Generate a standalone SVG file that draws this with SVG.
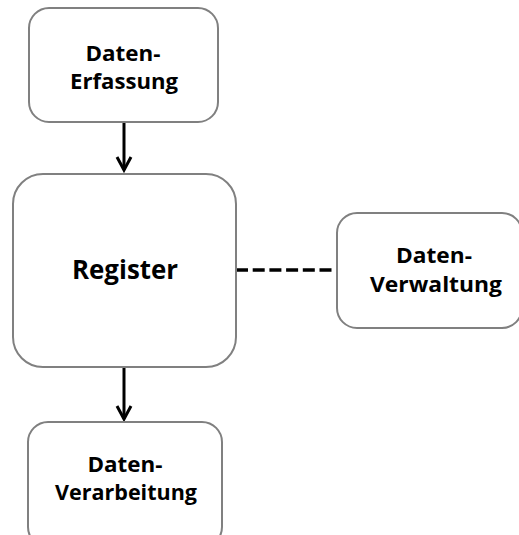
<svg xmlns="http://www.w3.org/2000/svg" width="519" height="535" viewBox="0 0 519 535">
  <style>
    .box { fill: #ffffff; stroke: #808080; stroke-width: 2; }
    .lbl { font-family: "Open Sans", "Liberation Sans", sans-serif; font-weight: bold; font-size: 22px; fill: #000000; text-anchor: middle; }
    .flow { stroke: #000000; stroke-width: 3; fill: none; }
    .dash { stroke: #000000; stroke-width: 3.5; fill: none; stroke-dasharray: 12 4.7; }
    .head { stroke: #000000; stroke-width: 3; fill: none; stroke-linecap: butt; stroke-linejoin: miter; }
  </style>
  <rect width="519" height="535" fill="#ffffff"/>

  <g id="connectors">
    <line class="flow" x1="124" y1="122" x2="124" y2="170"/>
    <polyline class="head" points="117,157 124,170 131,157"/>
    <line class="flow" x1="124" y1="367" x2="124" y2="419"/>
    <polyline class="head" points="117,406 124,419 131,406"/>
    <line class="dash" x1="236" y1="270" x2="337" y2="270"/>
  </g>

  <g id="erfassung">
    <rect class="box" x="29" y="8" width="189" height="114" rx="20"/>
    <text class="lbl" x="123" y="61" textLength="75" lengthAdjust="spacingAndGlyphs">Daten-</text>
    <text class="lbl" x="124" y="89" textLength="108" lengthAdjust="spacingAndGlyphs">Erfassung</text>
  </g>

  <g id="register">
    <rect class="box" x="13" y="174" width="223" height="193" rx="30"/>
    <text class="lbl" x="125" y="279" style="font-size:27px" textLength="106" lengthAdjust="spacingAndGlyphs">Register</text>
  </g>

  <g id="verwaltung">
    <rect class="box" x="337" y="213" width="185" height="115" rx="20"/>
    <text class="lbl" x="434" y="263" textLength="76" lengthAdjust="spacingAndGlyphs">Daten-</text>
    <text class="lbl" x="436" y="292" textLength="132" lengthAdjust="spacingAndGlyphs">Verwaltung</text>
  </g>

  <g id="verarbeitung">
    <rect class="box" x="28" y="422" width="194" height="125" rx="20"/>
    <text class="lbl" x="125" y="472" textLength="75" lengthAdjust="spacingAndGlyphs">Daten-</text>
    <text class="lbl" x="126" y="500" textLength="142" lengthAdjust="spacingAndGlyphs">Verarbeitung</text>
  </g>
</svg>
